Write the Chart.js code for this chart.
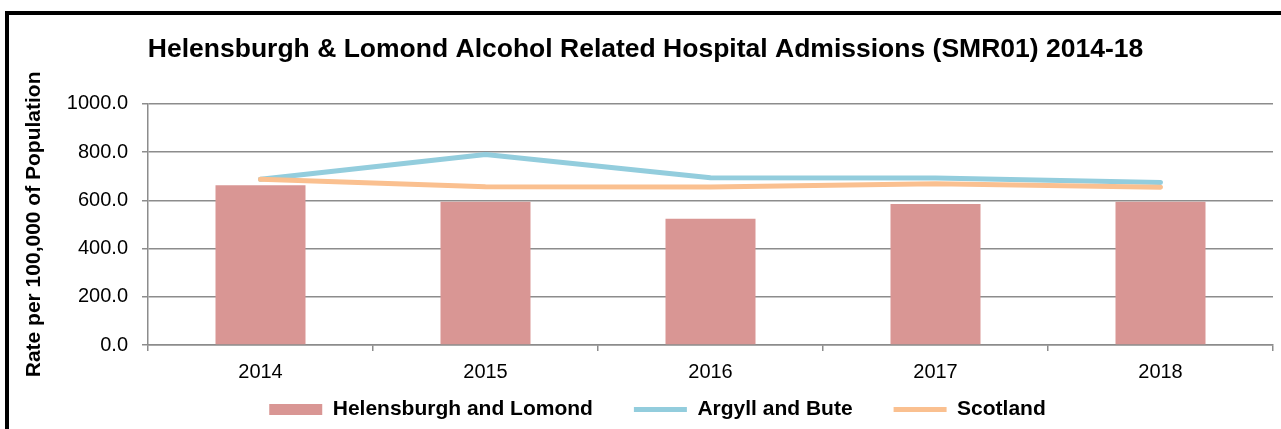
<!DOCTYPE html>
<html>
<head>
<meta charset="utf-8">
<title>Helensburgh & Lomond Alcohol Related Hospital Admissions</title>
<script src="https://cdn.jsdelivr.net/npm/chart.js@4/dist/chart.umd.min.js"></script>
<style>
  body { margin: 0; background: #fff; overflow: hidden; }
  #marco { position: absolute; left: 5px; top: 11px; width: 1400px; height: 500px; border: 4px solid #000; }
  #grafico { position: absolute; left: 0; top: 0; }
</style>
</head>
<body>
<div id="marco"></div>
<canvas id="grafico" width="1281" height="429"></canvas>
<script>
// datos (tasa por 100,000)
const anios = ['2014', '2015', '2016', '2017', '2018'];
const helensburgh = [662, 594, 523, 585, 594];
const argyll = [687, 790, 693, 692, 674];
const escocia = [687, 656, 655, 669, 654];
const ticksY = [0, 200, 400, 600, 800, 1000];

const gris = '#8c8c8c';

// la leyenda necesita mucho espacio horizontal entre items pero poco alto
const ajusteLeyenda = {
  id: 'ajusteLeyenda',
  afterInit(chart) {
    const leyenda = chart.legend;
    const fitOriginal = leyenda.fit;
    leyenda.fit = function () {
      fitOriginal.call(this);
      this.height = 36;
    };
  },
  afterLayout(chart) {
    const leyenda = chart.legend;
    leyenda.top = chart.height - 71;
    leyenda.left += 12;
    leyenda.right += 12;
  }
};

const ctx = document.getElementById('grafico').getContext('2d');

const chart = new Chart(ctx, {
  type: 'bar',
  data: {
    labels: anios,
    datasets: [
      {
        label: 'Helensburgh and Lomond',
        data: helensburgh,
        backgroundColor: '#D99694',
        borderWidth: 0,
        barPercentage: 0.4,
        categoryPercentage: 1,
        pointStyle: 'rect',
        order: 3
      },
      {
        type: 'line',
        label: 'Argyll and Bute',
        data: argyll,
        borderColor: '#93CDDD',
        backgroundColor: '#93CDDD',
        borderWidth: 5,
        borderCapStyle: 'round',
        borderJoinStyle: 'round',
        tension: 0,
        pointRadius: 0,
        pointStyle: 'line',
        order: 2
      },
      {
        type: 'line',
        label: 'Scotland',
        data: escocia,
        borderColor: '#FAC090',
        backgroundColor: '#FAC090',
        borderWidth: 5,
        borderCapStyle: 'round',
        borderJoinStyle: 'round',
        tension: 0,
        pointRadius: 0,
        pointStyle: 'line',
        order: 1
      }
    ]
  },
  options: {
    responsive: false,
    animation: false,
    layout: { padding: { left: 18, right: 8, top: 0, bottom: 0 } },
    plugins: {
      tooltip: { enabled: false },
      title: {
        display: true,
        text: 'Helensburgh & Lomond Alcohol Related Hospital Admissions (SMR01) 2014-18',
        color: '#000',
        font: { family: 'Arial, "Liberation Sans"', size: 26.5, weight: 'bold' },
        padding: { top: 34, bottom: 38 }
      },
      legend: {
        position: 'bottom',
        labels: {
          color: '#000',
          font: { family: 'Arial, "Liberation Sans"', size: 21, weight: 'bold' },
          usePointStyle: true,
          pointStyleWidth: 53,
          boxHeight: 11,
          padding: 41,
          sort: (a, b) => a.datasetIndex - b.datasetIndex
        }
      }
    },
    scales: {
      x: {
        offset: true,
        grid: {
          offset: true,
          drawOnChartArea: false,
          drawTicks: true,
          tickLength: 6,
          color: gris,
          lineWidth: 1.5
        },
        border: { color: gris, width: 1.5 },
        ticks: {
          color: '#000',
          padding: 9,
          font: { family: 'Arial, "Liberation Sans"', size: 20 }
        }
      },
      y: {
        min: 0,
        max: 1000,
        afterFit: s => { s.width = 130; },
        afterBuildTicks: s => { s.ticks = ticksY.map(v => ({ value: v })); },
        grid: { color: gris, lineWidth: 1.5, tickLength: 6 },
        border: { color: gris, width: 1.5 },
        ticks: {
          color: '#000',
          padding: 14,
          font: { family: 'Arial, "Liberation Sans"', size: 20 },
          callback: v => Number(v).toFixed(1)
        },
        title: {
          display: true,
          text: 'Rate per 100,000 of Population',
          color: '#000',
          font: { family: 'Arial, "Liberation Sans"', size: 21, weight: 'bold' }
        }
      }
    }
  },
  plugins: [ajusteLeyenda]
});
</script>
</body>
</html>
